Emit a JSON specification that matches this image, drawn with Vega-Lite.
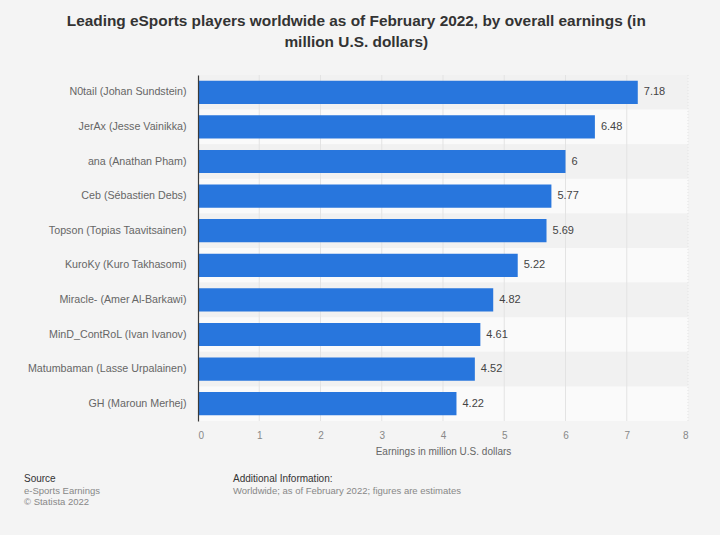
{
  "$schema": "https://vega.github.io/schema/vega-lite/v6.json",
  "background": "#f4f4f4",
  "padding": {"left": 24, "top": 14, "right": 31, "bottom": 17},
  "title": {
    "text": ["Leading eSports players worldwide as of February 2022, by overall earnings (in", "million U.S. dollars)"],
    "font": "Liberation Sans",
    "fontSize": 15.4,
    "fontWeight": "bold",
    "color": "#333333",
    "lineHeight": 21,
    "anchor": "middle",
    "offset": 24
  },
  "config": {
    "view": {"stroke": null},
    "font": "Liberation Sans"
  },
  "spacing": 18,
  "vconcat": [
    {
      "width": 490,
      "height": 346,
      "data": {
        "values": [
          {"player": "N0tail (Johan Sundstein)", "earnings": 7.18},
          {"player": "JerAx (Jesse Vainikka)", "earnings": 6.48},
          {"player": "ana (Anathan Pham)", "earnings": 6},
          {"player": "Ceb (Sébastien Debs)", "earnings": 5.77},
          {"player": "Topson (Topias Taavitsainen)", "earnings": 5.69},
          {"player": "KuroKy (Kuro Takhasomi)", "earnings": 5.22},
          {"player": "Miracle- (Amer Al-Barkawi)", "earnings": 4.82},
          {"player": "MinD_ContRoL (Ivan Ivanov)", "earnings": 4.61},
          {"player": "Matumbaman (Lasse Urpalainen)", "earnings": 4.52},
          {"player": "GH (Maroun Merhej)", "earnings": 4.22}
        ]
      },
      "transform": [{"window": [{"op": "row_number", "as": "rn"}]}],
      "layer": [
        {
          "mark": {"type": "rect"},
          "encoding": {
            "y": {
              "field": "player",
              "type": "nominal",
              "sort": null,
              "scale": {"paddingInner": 0, "paddingOuter": 0},
              "axis": {
                "title": null,
                "ticks": false,
                "domainColor": "#3a3a3a",
                "domainWidth": 1.2,
                "labelColor": "#666666",
                "labelFontSize": 10.7,
                "labelPadding": 12,
                "labelLimit": 200,
                "zindex": 1
              }
            },
            "x": {"datum": 0, "type": "quantitative", "scale": {"domain": [0, 8], "nice": false}},
            "x2": {"datum": 8},
            "fill": {"condition": {"test": "datum.rn % 2 == 1", "value": "#f1f1f1"}, "value": "#fafafa"}
          }
        },
        {
          "data": {"values": [{"g": 1}, {"g": 2}, {"g": 3}, {"g": 4}, {"g": 5}, {"g": 6}, {"g": 7}, {"g": 8}]},
          "mark": {"type": "rule", "color": "#e3e3e3", "strokeWidth": 1},
          "encoding": {
            "x": {"field": "g", "type": "quantitative"},
            "strokeDash": {"condition": {"test": "datum.g == 8", "value": [1, 2]}, "value": [1, 0]}
          }
        },
        {
          "mark": {"type": "bar", "color": "#2876dd", "height": {"band": 0.67}},
          "encoding": {
            "y": {"field": "player", "type": "nominal", "sort": null},
            "x": {
              "field": "earnings",
              "type": "quantitative",
              "axis": {
                "title": "Earnings in million U.S. dollars",
                "titleFontSize": 10,
                "titleFontWeight": "normal",
                "titleColor": "#666666",
                "titlePadding": 6,
                "labelColor": "#888888",
                "labelFontSize": 10,
                "labelPadding": 9,
                "format": "d",
                "domain": false,
                "ticks": false,
                "grid": false,
                "values": [0, 1, 2, 3, 4, 5, 6, 7, 8]
              }
            }
          }
        },
        {
          "mark": {"type": "text", "align": "left", "dx": 6, "fontSize": 11, "color": "#444444"},
          "encoding": {
            "y": {"field": "player", "type": "nominal", "sort": null},
            "x": {"field": "earnings", "type": "quantitative"},
            "text": {"field": "earnings", "type": "quantitative", "format": "~g"}
          }
        }
      ]
    },
    {
      "spacing": 9,
      "hconcat": [
        {
          "width": 26,
          "height": 1,
          "data": {"values": [{"t": ""}]},
          "title": {
            "text": "Source",
            "subtitle": ["e-Sports Earnings", "© Statista 2022"],
            "anchor": "start",
            "dx": -174,
            "fontSize": 10,
            "fontWeight": "normal",
            "color": "#333333",
            "subtitleFontSize": 9.5,
            "subtitleColor": "#888888",
            "subtitlePadding": 2,
            "subtitleLineHeight": 11,
            "offset": 0
          },
          "mark": {"type": "text"},
          "encoding": {"text": {"field": "t", "type": "nominal"}}
        },
        {
          "width": 300,
          "height": 1,
          "data": {"values": [{"t": ""}]},
          "title": {
            "text": "Additional Information:",
            "subtitle": ["Worldwide; as of February 2022; figures are estimates", " "],
            "anchor": "start",
            "fontSize": 10,
            "fontWeight": "normal",
            "color": "#333333",
            "subtitleFontSize": 9.5,
            "subtitleColor": "#888888",
            "subtitlePadding": 2,
            "subtitleLineHeight": 11,
            "offset": 0
          },
          "mark": {"type": "text"},
          "encoding": {"text": {"field": "t", "type": "nominal"}}
        }
      ]
    }
  ]
}
